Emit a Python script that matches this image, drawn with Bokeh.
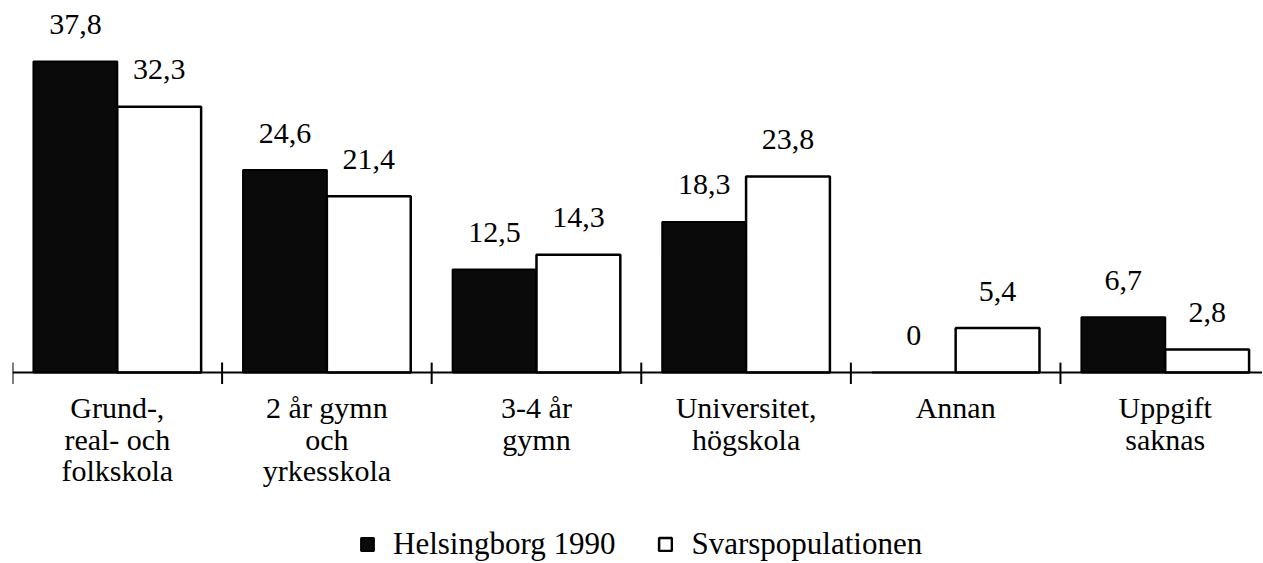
import numpy as np
from bokeh.plotting import figure
from bokeh.models import Range1d, Span, Legend, LegendItem, ColumnDataSource, Label
from bokeh.embed import file_html
from bokeh.resources import INLINE

# ---- data ----
categories = ["Grund-,\nreal- och\nfolkskola", "2 år gymn\noch\nyrkesskola", "3-4 år\ngymn",
              "Universitet,\nhögskola", "Annan", "Uppgift\nsaknas"]
helsingborg = [37.8, 24.6, 12.5, 18.3, 0, 6.7]
svarspop = [32.3, 21.4, 14.3, 23.8, 5.4, 2.8]
series_names = ["Helsingborg 1990", "Svarspopulationen"]


def fmt(v):
    return "0" if v == 0 else f"{v:.1f}".replace(".", ",")


FONT_NAME = "Liberation Serif"
n = len(categories)
idx = np.arange(n)

p = figure(width=1262, height=562, output_backend="svg", toolbar_location=None,
           x_axis_location=None, y_axis_location=None,
           x_range=Range1d(0, 5.964), y_range=Range1d(-23.09, 45.2),
           min_border_left=12, min_border_right=0, min_border_top=0, min_border_bottom=0,
           background_fill_color="white", border_fill_color="white")
p.grid.visible = False
p.outline_line_color = None

src_h = ColumnDataSource(dict(x=idx + 0.3, top=helsingborg))
src_s = ColumnDataSource(dict(x=idx + 0.7, top=svarspop))

r1 = p.vbar(x="x", top="top", bottom=0, width=0.4, source=src_h,
            fill_color="#0a0a0a", line_color="black", line_width=2)
r2 = p.vbar(x="x", top="top", bottom=0, width=0.4, source=src_s,
            fill_color="white", line_color="black", line_width=2.5)

# axis line and boundary ticks
p.add_layout(Span(location=0, dimension="width", line_color="black", line_width=2))
bounds = np.arange(n + 1)
p.segment(x0=bounds, x1=bounds, y0=-1.4, y1=1.2, line_color="black", line_width=2)

# value labels
for off, vals in ((0.3, helsingborg), (0.7, svarspop)):
    for i, v in enumerate(vals):
        p.add_layout(Label(x=i + off, y=v, text=fmt(v), text_font=FONT_NAME,
                           text_font_size="30px", text_align="center",
                           text_baseline="alphabetic", y_offset=37, text_color="black"))

# category labels
for i, c in enumerate(categories):
    p.add_layout(Label(x=i + 0.5, y=0, text=c, text_font=FONT_NAME, text_font_size="30px",
                       text_align="center", text_baseline="top", y_offset=-19,
                       text_line_height=0.95, text_color="black"))

legend = Legend(items=[LegendItem(label=series_names[0], renderers=[r1]),
                       LegendItem(label=series_names[1], renderers=[r2])],
                orientation="horizontal", location=(347, 0),
                label_text_font=FONT_NAME, label_text_font_size="31px",
                label_text_color="black",
                glyph_width=16, glyph_height=16, label_standoff=18, spacing=42,
                padding=0, margin=0, border_line_color=None, background_fill_alpha=0)
p.add_layout(legend)

open("out.html", "w").write(file_html(p, INLINE))
